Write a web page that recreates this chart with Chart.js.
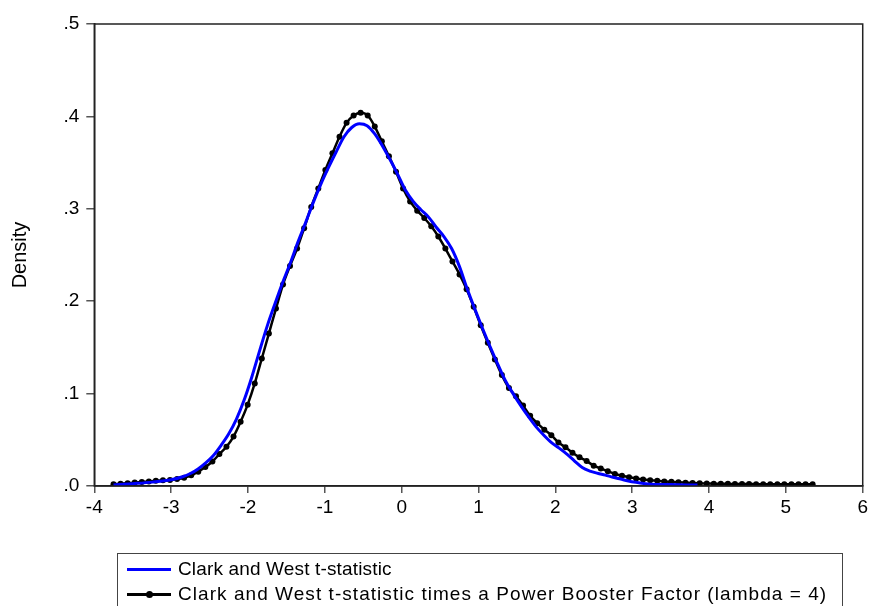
<!DOCTYPE html>
<html><head><meta charset="utf-8">
<script src="https://cdn.jsdelivr.net/npm/chart.js@4/dist/chart.umd.min.js"></script>
<style>
html,body{margin:0;padding:0;background:#fff;overflow:hidden;}
#wrap{position:relative;width:871px;height:606px;overflow:hidden;}
#c{position:absolute;left:0;top:0;}
#legend{position:absolute;left:117px;top:553px;width:726px;height:70px;border:1.5px solid #444;box-sizing:border-box;font-family:"Liberation Sans",Arial,sans-serif;font-size:19px;color:#000;}
.row{position:absolute;left:9px;height:22px;display:flex;align-items:center;white-space:nowrap;}
.swatch{position:relative;width:44px;height:3px;margin-right:7px;}
.dot{position:absolute;left:19px;top:-2px;width:7px;height:7px;border-radius:50%;background:#000;}
</style>
</head><body>
<div id="wrap">
<canvas id="c" width="871" height="606"></canvas>
<div id="legend">
  <div class="row" style="top:4px"><span class="swatch" style="background:#0000ff"></span><span id="l1" style="letter-spacing:0.15px"></span></div>
  <div class="row" style="top:29px"><span class="swatch" style="background:#000"><span class="dot"></span></span><span id="l2" style="letter-spacing:1.05px"></span></div>
</div>
</div>
<script>
const seriesNames = ["Clark and West t-statistic", "Clark and West t-statistic times a Power Booster Factor (lambda = 4)"];
const yTicks = [0, 0.1, 0.2, 0.3, 0.4, 0.5];
const xTicks = [-4, -3, -2, -1, 0, 1, 2, 3, 4, 5, 6];

const blueX = [-3.75,-3.5,-3.25,-3.0,-2.85,-2.75,-2.65,-2.55,-2.45,-2.35,-2.25,-2.15,-2.05,-1.95,-1.85,-1.75,-1.65,-1.55,-1.45,-1.35,-1.25,-1.15,-1.05,-0.95,-0.85,-0.75,-0.65,-0.55,-0.45,-0.35,-0.25,-0.15,-0.05,0.05,0.15,0.25,0.35,0.45,0.55,0.65,0.75,0.85,0.95,1.05,1.15,1.25,1.35,1.45,1.55,1.65,1.75,1.85,1.95,2.05,2.15,2.25,2.35,2.45,2.55,2.65,2.75,2.85,2.95,3.05,3.15,3.25,3.5,3.85];
const blueY = [0.0010,0.0025,0.0042,0.0068,0.0100,0.0135,0.0185,0.0250,0.0330,0.0440,0.0565,0.0725,0.0930,0.1180,0.1460,0.1730,0.1970,0.2200,0.2410,0.2640,0.2850,0.3070,0.3270,0.3450,0.3620,0.3780,0.3880,0.3920,0.3900,0.3810,0.3680,0.3530,0.3370,0.3200,0.3080,0.2990,0.2910,0.2800,0.2700,0.2570,0.2380,0.2140,0.1920,0.1710,0.1510,0.1320,0.1140,0.1000,0.0870,0.0750,0.0640,0.0550,0.0470,0.0410,0.0345,0.0270,0.0200,0.0162,0.0138,0.0118,0.0095,0.0075,0.0055,0.0040,0.0028,0.0020,0.0015,0.0010];

const blackX = [-3.750,-3.658,-3.566,-3.474,-3.382,-3.290,-3.199,-3.107,-3.015,-2.923,-2.831,-2.739,-2.647,-2.555,-2.463,-2.372,-2.280,-2.188,-2.096,-2.004,-1.912,-1.820,-1.728,-1.636,-1.544,-1.453,-1.361,-1.269,-1.177,-1.085,-0.993,-0.901,-0.809,-0.717,-0.625,-0.534,-0.442,-0.350,-0.258,-0.166,-0.074,0.018,0.110,0.202,0.294,0.385,0.477,0.569,0.661,0.753,0.845,0.937,1.029,1.121,1.213,1.304,1.396,1.488,1.580,1.672,1.764,1.856,1.948,2.040,2.132,2.223,2.315,2.407,2.499,2.591,2.683,2.775,2.867,2.959,3.051,3.142,3.234,3.326,3.418,3.510,3.602,3.694,3.786,3.878,3.970,4.061,4.153,4.245,4.337,4.429,4.521,4.613,4.705,4.797,4.889,4.980,5.072,5.164,5.256,5.348];
const blackY = [0.0018,0.0024,0.0030,0.0037,0.0043,0.0050,0.0056,0.0061,0.0066,0.0075,0.0090,0.0115,0.0155,0.0205,0.0265,0.0345,0.0425,0.0535,0.0695,0.0880,0.111,0.138,0.165,0.192,0.218,0.238,0.257,0.279,0.302,0.322,0.342,0.360,0.378,0.393,0.401,0.404,0.401,0.389,0.373,0.357,0.340,0.322,0.308,0.298,0.290,0.281,0.270,0.257,0.243,0.229,0.213,0.194,0.174,0.155,0.137,0.120,0.106,0.097,0.087,0.076,0.068,0.061,0.055,0.047,0.042,0.036,0.031,0.027,0.022,0.019,0.016,0.013,0.011,0.0095,0.0082,0.0071,0.0063,0.0056,0.0050,0.0045,0.0040,0.0036,0.0032,0.0029,0.0027,0.0025,0.0024,0.0023,0.0022,0.0021,0.0021,0.0020,0.0020,0.0019,0.0019,0.0019,0.0018,0.0018,0.0018,0.0018];

document.getElementById('l1').textContent = seriesNames[0];
document.getElementById('l2').textContent = seriesNames[1];

const FONT = '"Liberation Sans", Arial, sans-serif';

const framePlugin = {
  id: 'frame',
  afterDraw(chart) {
    const a = chart.chartArea, ctx = chart.ctx;
    ctx.save();
    ctx.strokeStyle = '#222';
    ctx.lineWidth = 1.5;
    ctx.strokeRect(a.left, a.top, a.right - a.left, a.bottom - a.top);
    ctx.restore();
  }
};

new Chart(document.getElementById('c'), {
  type: 'line',
  data: {
    datasets: [
      {
        label: seriesNames[0],
        data: blueX.map((x, i) => ({x: x, y: blueY[i]})),
        borderColor: '#0000ff',
        borderWidth: 3,
        pointRadius: 0,
        cubicInterpolationMode: 'monotone',
        fill: false,
        order: 0
      },
      {
        label: seriesNames[1],
        data: blackX.map((x, i) => ({x: x, y: blackY[i]})),
        borderColor: '#000',
        backgroundColor: '#000',
        borderWidth: 2.5,
        pointRadius: 3,
        pointBorderWidth: 0,
        pointBackgroundColor: '#000',
        cubicInterpolationMode: 'monotone',
        fill: false,
        order: 1
      }
    ]
  },
  options: {
    responsive: false,
    animation: false,
    devicePixelRatio: 1,
    layout: { padding: { left: 0, top: 24, right: 6.7, bottom: 80 } },
    plugins: { legend: { display: false }, tooltip: { enabled: false } },
    scales: {
      x: {
        type: 'linear',
        min: -4, max: 6,
        afterFit(s) { s.height = 40; },
        afterBuildTicks(s) { s.ticks = xTicks.map(v => ({value: v})); },
        ticks: { color: '#000', font: { family: FONT, size: 19 }, padding: 3 },
        grid: { display: true, drawOnChartArea: false, drawTicks: true, tickLength: 7, color: '#555', lineWidth: 1.5 },
        border: { display: true, color: '#222', width: 1.5 }
      },
      y: {
        min: 0, max: 0.5,
        afterFit(s) { s.width = 94.3; },
        afterBuildTicks(s) { s.ticks = yTicks.map(v => ({value: v})); },
        ticks: {
          color: '#000', font: { family: FONT, size: 19 }, padding: 7,
          callback: v => v.toFixed(1).replace(/^0/, '')
        },
        title: { display: true, text: 'Density', color: '#000', font: { family: FONT, size: 20 }, padding: { top: 8, bottom: 0 } },
        grid: { display: true, drawOnChartArea: false, drawTicks: true, tickLength: 8, color: '#555', lineWidth: 1.5 },
        border: { display: true, color: '#222', width: 1.5 }
      }
    }
  },
  plugins: [framePlugin]
});
</script>
</body></html>
